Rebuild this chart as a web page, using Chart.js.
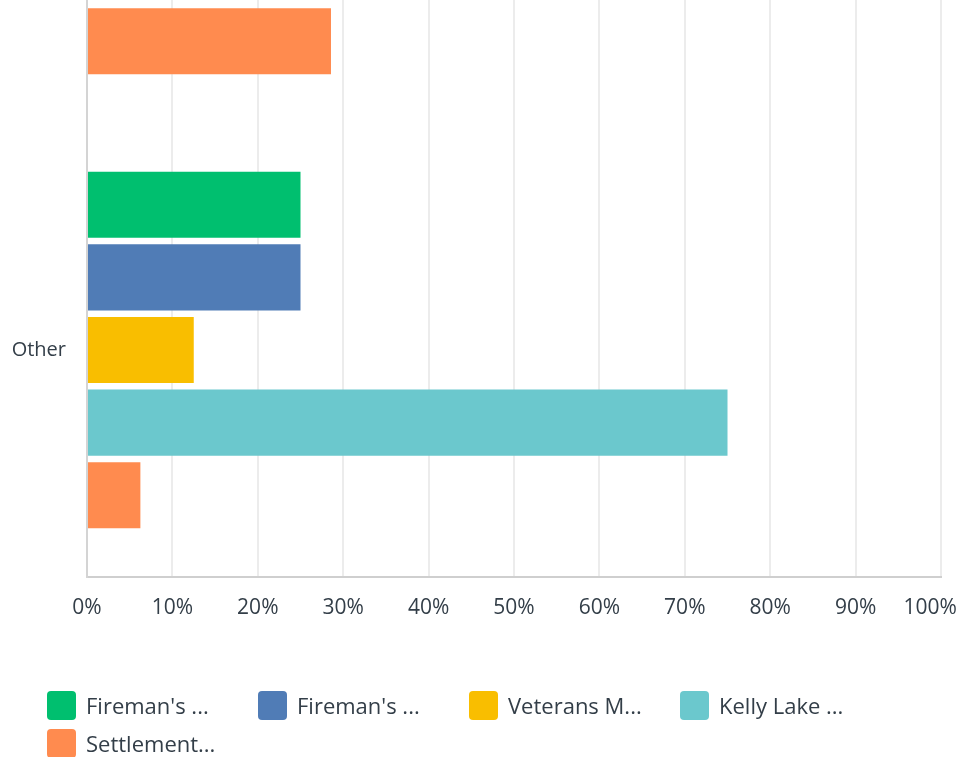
<!DOCTYPE html>
<html>
<head>
<meta charset="utf-8">
<script src="https://cdn.jsdelivr.net/npm/chart.js@4/dist/chart.umd.min.js"></script>
<style>
  html, body { margin: 0; padding: 0; width: 961px; height: 757px; overflow: hidden; background: #fff; }
  /* the plot is taller than the window and scrolled so the previous group sits above the fold */
  #wrap { position: absolute; left: 0; top: -340px; width: 961px; height: 1097px; }
</style>
</head>
<body>
<div id="wrap"><canvas id="chart"></canvas></div>
<script>
// Answer groups (the first one is scrolled out of view above)
const categories = ['', 'Other'];

// Park names as shown in the legend
const seriesNames = ["Fireman's ...", "Fireman's ...", "Veterans M...", "Kelly Lake ...", "Settlement..."];

// Percent of respondents per park, one entry per answer group
const firemansA  = [null, 25];
const firemansB  = [null, 25];
const veterans   = [null, 12.5];
const kellyLake  = [null, 75];
const settlement = [28.57, 6.25];

// Horizontal axis ticks
const xTickValues = [0, 10, 20, 30, 40, 50, 60, 70, 80, 90, 100];
const xTickLabels = ['0%', '10%', '20%', '30%', '40%', '50%', '60%', '70%', '80%', '90%', '100%'];

const seriesColors = ['#00bf6f', '#507cb6', '#f9be00', '#6bc8cd', '#ff8b4f'];
const seriesValues = [firemansA, firemansB, veterans, kellyLake, settlement];

const TEXT = '#333e48';
const FONT = '"Open Sans", "DejaVu Sans", sans-serif';

// Grid-style legend: fixed-width columns, rounded colour chips
const gridLegend = {
  id: 'gridLegend',
  afterDraw(chart) {
    const ctx = chart.ctx;
    const H = chart.height;
    const cols = 4, colW = 211, x0 = 47, chip = 29;
    const rowCenters = [H - 51.5, H - 13.5];
    ctx.save();
    ctx.font = '22px ' + FONT;
    ctx.textBaseline = 'alphabetic';
    ctx.textAlign = 'left';
    chart.data.datasets.forEach((ds, i) => {
      const col = i % cols, row = Math.floor(i / cols);
      const x = x0 + col * colW;
      const cy = rowCenters[row];
      ctx.fillStyle = ds.backgroundColor;
      ctx.beginPath();
      ctx.roundRect(x, cy - chip / 2, chip, chip, 4);
      ctx.fill();
      ctx.fillStyle = TEXT;
      ctx.fillText(ds.label, x + chip + 10, cy + 8);
    });
    ctx.restore();
  }
};

new Chart(document.getElementById('chart'), {
  type: 'bar',
  data: {
    labels: categories,
    datasets: seriesNames.map((name, i) => ({
      label: name,
      data: seriesValues[i],
      backgroundColor: seriesColors[i],
      borderWidth: 0,
      categoryPercentage: 0.8,
      barPercentage: 0.91
    }))
  },
  options: {
    indexAxis: 'y',
    responsive: true,
    maintainAspectRatio: false,
    animation: false,
    layout: { padding: { top: 9, right: 20, bottom: 120, left: 0 } },
    plugins: {
      legend: { display: false },
      tooltip: { enabled: false }
    },
    scales: {
      x: {
        min: 0,
        max: 100,
        afterBuildTicks(scale) {
          scale.ticks = xTickValues.map(v => ({ value: v }));
        },
        afterFit(scale) {
          scale.height = 60;
          scale.paddingLeft = 0;
          scale.paddingRight = 0;
        },
        ticks: {
          padding: 18,
          color: TEXT,
          font: { family: FONT, size: 21 },
          maxRotation: 0,
          autoSkip: false,
          // keep the last label inside the window edge
          callback: (v, i) => i === xTickLabels.length - 1 ? xTickLabels[i] + '\u00a0\u00a0\u00a0\u00a0' : xTickLabels[i]
        },
        grid: { color: '#ececec', lineWidth: 2, drawTicks: false },
        border: { display: true, color: '#cfcfcf', width: 2 }
      },
      y: {
        afterFit(scale) {
          scale.width = 87;
          scale.paddingTop = 0;
          scale.paddingBottom = 0;
        },
        ticks: {
          padding: 21,
          color: TEXT,
          font: { family: FONT, size: 20 }
        },
        grid: { display: false, drawTicks: false },
        border: { display: true, color: '#d4d4d4', width: 2 }
      }
    }
  },
  plugins: [gridLegend]
});
</script>
</body>
</html>
